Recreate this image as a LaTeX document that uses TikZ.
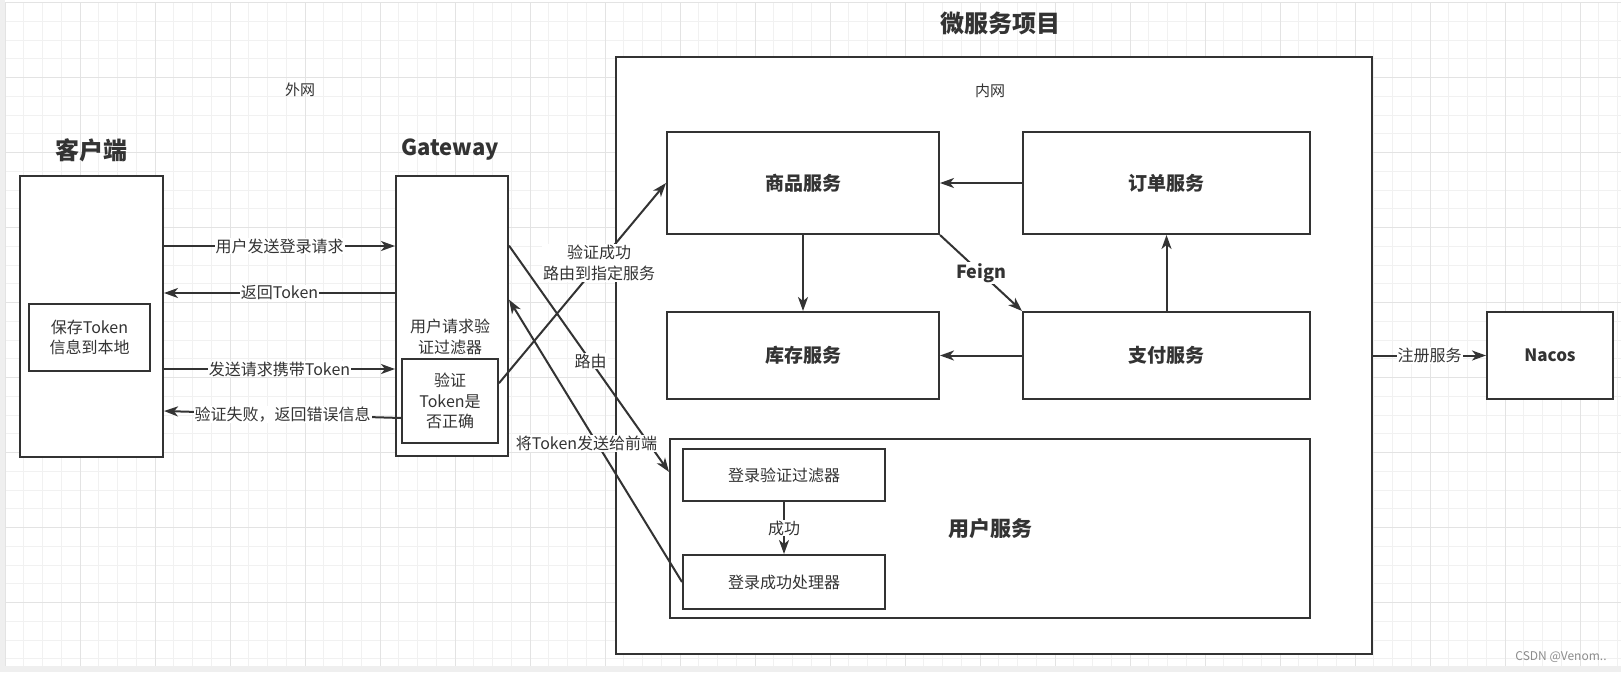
\documentclass[tikz,border=0pt]{standalone}
\usepackage{fontspec}
\setmainfont{Noto Sans CJK SC}
\usepackage{tikz}
\usetikzlibrary{arrows.meta}
\definecolor{ink}{HTML}{333333}
\definecolor{gridminor}{HTML}{F1F1F1}
\definecolor{gridmajor}{HTML}{E3E3E3}
\definecolor{rim}{HTML}{EFEFEF}
\tikzset{
  box/.style = {draw=ink, line width=2pt, fill=white, align=center,
    inner sep=2pt, text=ink},
  svcbox/.style = {box, font=\fontsize{19}{23}\selectfont\bfseries},% service box
  smallbox/.style = {box, font=\fontsize{16}{20.5}\selectfont},% inner box
  title/.style = {text=ink, font=\fontsize{24}{28}\selectfont\bfseries},
  note/.style = {text=ink, align=center, font=\fontsize{16}{20.5}\selectfont},
  lbl/.style = {note, fill=white, inner sep=1pt},% label on an edge
  arr/.style = {draw=ink, line width=2pt,
    -{Stealth[length=14pt, width=10pt, inset=4pt]}}
}
\begin{document}
\begin{tikzpicture}[x=1pt, y=-1pt]
% sheet and grid
\fill[white] (0,0) rectangle (1621,672);
\useasboundingbox (0,0) rectangle (1621,672);
\draw[gridminor, line width=1pt, shift={(5,2.7)}] (0,0) grid[step=18.75pt] (1616,663.3);
\draw[gridmajor, line width=1pt, shift={(5,2.7)}] (0,0) grid[step=75pt] (1616,663.3);
\fill[rim] (0,0) rectangle (5,672);
\fill[rim] (0,666) rectangle (1621,672);

% client
\node[title] (clientT) at (91,150) {客户端};
\node[box, minimum width=143pt, minimum height=281pt] (client) at (91.5,316) {};
\node[smallbox, minimum width=121pt, minimum height=67pt] (save) at (89.5,337.5) {保存Token\\信息到本地};

% gateway
\node[title, font=\fontsize{22}{26}\selectfont\bfseries] (gatewayT) at (450,150) {Gateway};
\node[box, minimum width=112pt, minimum height=280pt] (gateway) at (452,316) {};
\node[note] (gwfilter) at (450,337) {用户请求验\\证过滤器};
\node[smallbox, minimum width=96pt, minimum height=84pt] (check) at (450,401) {验证\\Token是\\否正确};

\node[note, font=\fontsize{15}{18}\selectfont] (outer) at (300,90) {外网};

% micro services
\node[title] (microT) at (1000,23) {微服务项目};
\node[box, minimum width=756pt, minimum height=597pt] (micro) at (994,355.5) {};
\node[note, font=\fontsize{15}{18}\selectfont] (inner) at (990,91) {内网};
\node[svcbox, minimum width=272pt, minimum height=102pt] (goods) at (803,183) {商品服务};
\node[svcbox, minimum width=287pt, minimum height=102pt] (order) at (1166.5,183) {订单服务};
\node[svcbox, minimum width=272pt, minimum height=87pt] (stock) at (803,355.5) {库存服务};
\node[svcbox, minimum width=287pt, minimum height=87pt] (pay) at (1166.5,355.5) {支付服务};
\node[svcbox, font=\fontsize{21}{25}\selectfont\bfseries, minimum width=640pt,
  minimum height=179pt] (user) at (990,528.5) {用户服务};
\node[smallbox, minimum width=202pt, minimum height=52pt] (filter) at (784,475) {登录验证过滤器};
\node[smallbox, minimum width=202pt, minimum height=54pt] (handler) at (784,582) {登录成功处理器};

\node[svcbox, font=\fontsize{17}{20}\selectfont\bfseries, minimum width=126pt,
  minimum height=87pt] (nacos) at (1550,355.5) {Nacos};

% client <-> gateway
\draw[arr] ([yshift=70pt]client.east) -- node[lbl] {用户发送登录请求} ([yshift=70pt]gateway.west);
\draw[arr] ([yshift=23pt]gateway.west) -- node[lbl] {返回Token} ([yshift=23pt]client.east);
\draw[arr] ([yshift=-53pt]client.east) -- node[lbl] {发送请求携带Token} ([yshift=-53pt]gateway.west);
\draw[arr] ([yshift=-17pt]check.west) -- node[lbl] {验证失败，返回错误信息} ([yshift=-95pt]client.east);

% gateway <-> services
\draw[arr] (check.20) -- node[lbl, pos=0.6] {验证成功\\路由到指定服务} (goods.west);
\draw[arr] (gateway.51) -- node[lbl, pos=0.51] {路由} (user.170);
\draw[arr] (handler.west) -- node[lbl, pos=0.5, xshift=-9pt, yshift=-3pt] {将Token发送给前端} (gateway.16);

% inside
\draw[arr] (order.west) -- (goods.east);
\draw[arr] (goods.south) -- (stock.north);
\draw[arr] (pay.north) -- (order.south);
\draw[arr] (pay.west) -- (stock.east);
\draw[arr] (goods.south east) -- node[lbl, font=\fontsize{18}{22}\selectfont\bfseries] {Feign} (pay.north west);
\draw[arr] (filter.south) -- node[lbl] {成功} (handler.north);
\draw[arr] (micro.east) -- node[lbl] {注册服务} (nacos.west);

\node[text=black!45, font=\fontsize{12}{14}\selectfont] (mark) at (1561,657) {CSDN @Venom..};
\end{tikzpicture}
\end{document}
